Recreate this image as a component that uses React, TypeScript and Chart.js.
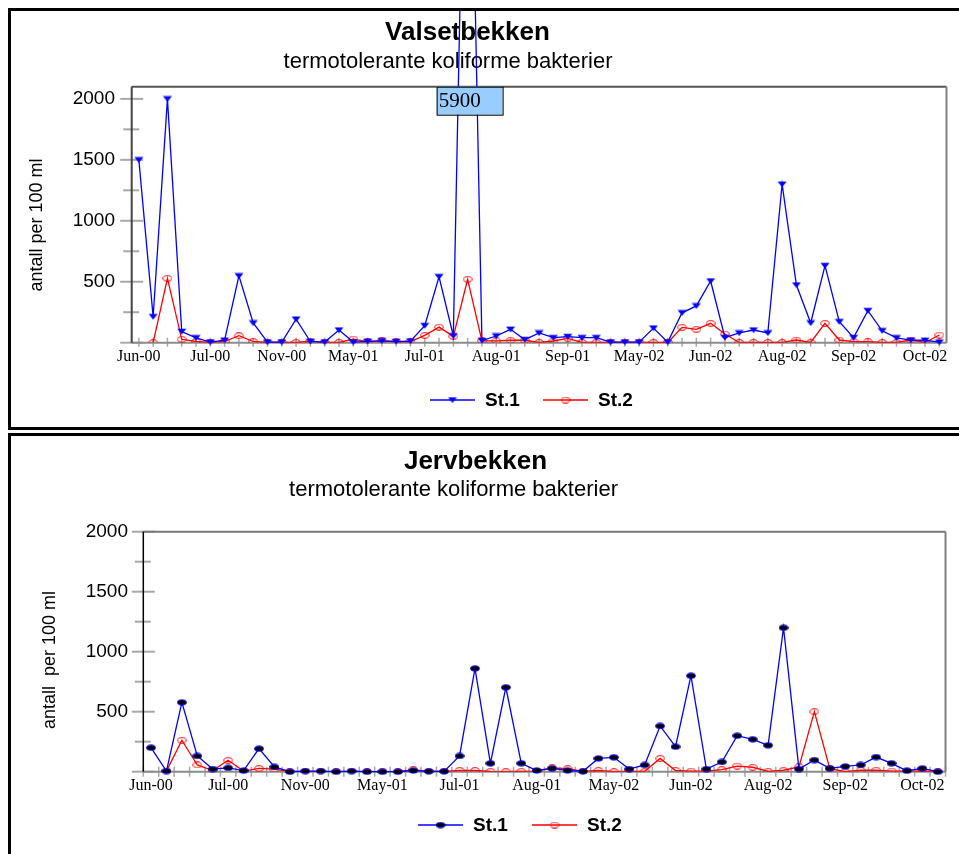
import React, { useEffect, useRef } from 'react';
import { Chart, registerables } from 'chart.js';

Chart.register(...registerables);

const SANS = '"Liberation Sans", Arial, Helvetica, sans-serif';
const SERIF = '"Liberation Serif", "Times New Roman", Times, serif';

// ---------- Valsetbekken ----------
const valsetCategories = [
  'Jun-00', '', '', '', '',
  'Jul-00', '', '', '', '',
  'Nov-00', '', '', '', '',
  'May-01', '', '', '', '',
  'Jul-01', '', '', '', '',
  'Aug-01', '', '', '', '',
  'Sep-01', '', '', '', '',
  'May-02', '', '', '', '',
  'Jun-02', '', '', '', '',
  'Aug-02', '', '', '', '',
  'Sep-02', '', '', '', '',
  'Oct-02', '',
];
const valsetSt1 = [
  1500, 213, 2000, 92, 40,
  5, 21, 548, 162, 5,
  5, 193, 10, 5, 104,
  5, 11, 15, 9, 13,
  140, 541, 55, 5900, 18,
  55, 110, 25, 80, 41,
  50, 41, 41, 5, 5,
  5, 120, 5, 245, 302,
  506, 42, 80, 104, 80,
  1300, 473, 162, 632, 172,
  42, 263, 98, 40, 21,
  20, 5,
];
const valsetSt2 = [
  null, 0, 528, 28, 10,
  3, 10, 57, 10, 2,
  2, 2, 12, 2, 2,
  30, 8, 15, 8, 10,
  60, 128, 52, 520, 15,
  15, 20, 20, 2, 14,
  36, 2, 2, 2, 2,
  2, 2, 2, 126, 110,
  159, 71, 2, 2, 2,
  2, 22, 2, 159, 22,
  8, 8, 2, 2, 22,
  2, 63,
];

// ---------- Jervbekken ----------
const jervCategories = [
  'Jun-00', '', '', '', '',
  'Jul-00', '', '', '', '',
  'Nov-00', '', '', '', '',
  'May-01', '', '', '', '',
  'Jul-01', '', '', '', '',
  'Aug-01', '', '', '', '',
  'May-02', '', '', '', '',
  'Jun-02', '', '', '', '',
  'Aug-02', '', '', '', '',
  'Sep-02', '', '', '', '',
  'Oct-02', '',
];
const jervSt1 = [
  200, 5, 578, 131, 22,
  32, 9, 192, 40, 0,
  5, 5, 0, 5, 0,
  0, 0, 10, 3, 3,
  131, 861, 70, 703, 70,
  10, 28, 10, 3, 111,
  120, 22, 56, 381, 208,
  800, 22, 81, 300, 270,
  220, 1200, 22, 97, 28,
  44, 56, 122, 70, 8,
  28, 0,
];
const jervSt2 = [
  null, 5, 262, 56, 10,
  95, 5, 27, 21, 0,
  0, 0, 0, 0, 0,
  0, 0, 17, 3, 3,
  10, 10, 3, 0, 3,
  5, 31, 25, 3, 10,
  0, 3, 3, 111, 10,
  5, 5, 17, 47, 37,
  3, 12, 40, 500, 25,
  0, 12, 12, 5, 5,
  5, 0,
];

const seriesNames = ['St.1', 'St.2'];
const yTitleText = ['antall per 100 ml', 'antall  per 100 ml'];
const titles = ['Valsetbekken', 'Jervbekken'];
const subtitleText = 'termotolerante koliforme bakterier';

type MarkerKind = 'tri' | 'ring' | 'dot';

function makeMarker(kind: MarkerKind): HTMLCanvasElement {
  const c = document.createElement('canvas');
  c.width = 10;
  c.height = 7;
  const g = c.getContext('2d') as CanvasRenderingContext2D;
  if (kind === 'tri') {
    g.fillStyle = '#0000ff';
    g.beginPath();
    g.moveTo(0.5, 0.8);
    g.lineTo(9.5, 0.8);
    g.lineTo(5, 6.5);
    g.closePath();
    g.fill();
  } else if (kind === 'ring') {
    g.strokeStyle = '#ff0000';
    g.lineWidth = 1;
    g.beginPath();
    g.ellipse(5, 3.5, 4.2, 2.8, 0, 0, Math.PI * 2);
    g.stroke();
  } else {
    g.fillStyle = '#000000';
    g.strokeStyle = '#0000ff';
    g.lineWidth = 1;
    g.beginPath();
    g.ellipse(5, 3.5, 4.4, 2.6, 0, 0, Math.PI * 2);
    g.fill();
    g.stroke();
  }
  return c;
}

type PanelCfg = {
  ox: number;
  oy: number;
  w: number;
  h: number;
  categories: string[];
  st1: (number | null)[];
  st2: (number | null)[];
  ymax: number;
  padTop: number;
  yWidth: number;
  padRight: number;
  xHeight: number;
  yTickPad: number;
  title: string;
  titleX: number;
  titleY: number;
  subX: number;
  subY: number;
  yTitle: string;
  yTitleX: number;
  yTitleY: number;
  legendY: number;
  legendX: number[];
  marker1: MarkerKind;
  tickMode: string;
  showOverflow: boolean;
  topColor: string;
  leftColor: string;
  leftWidth: number;
};

const decorPlugin = {
  id: 'decor',
  beforeDraw(chart: any, _args: any, o: any) {
    const ctx: CanvasRenderingContext2D = chart.ctx;
    ctx.save();
    ctx.fillStyle = '#ffffff';
    ctx.fillRect(0, 0, chart.width, chart.height);
    ctx.fillStyle = '#000000';
    ctx.textAlign = 'center';
    ctx.textBaseline = 'middle';
    ctx.font = `bold 26px ${SANS}`;
    ctx.fillText(o.title, o.titleX - o.ox, o.titleY - o.oy);
    ctx.font = `22px ${SANS}`;
    ctx.fillText(o.subtitle, o.subX - o.ox, o.subY - o.oy);
    ctx.save();
    ctx.translate(o.yTitleX - o.ox, o.yTitleY - o.oy);
    ctx.rotate(-Math.PI / 2);
    ctx.font = `18px ${SANS}`;
    ctx.fillText(o.yTitle, 0, 0);
    ctx.restore();

    // legend
    const ly = o.legendY - o.oy;
    chart.data.datasets.forEach((ds: any, i: number) => {
      const lx = o.legendX[i] - o.ox;
      ctx.strokeStyle = ds.borderColor;
      ctx.lineWidth = 1.3;
      ctx.beginPath();
      ctx.moveTo(lx, ly);
      ctx.lineTo(lx + 45, ly);
      ctx.stroke();
      const img = ds.pointStyle as HTMLCanvasElement;
      ctx.drawImage(img, lx + 22.5 - img.width / 2, ly - img.height / 2);
      ctx.fillStyle = '#000000';
      ctx.textAlign = 'left';
      ctx.font = `bold 19px ${SANS}`;
      ctx.fillText(ds.label, lx + 55, ly + 1);
    });
    ctx.restore();
  },
  beforeDatasetsDraw(chart: any, _args: any, o: any) {
    const ctx: CanvasRenderingContext2D = chart.ctx;
    const { left, right, top, bottom } = chart.chartArea;
    const xs = chart.scales.x;
    const ys = chart.scales.y;
    ctx.save();
    // y ticks (major/minor crossing the axis)
    ctx.strokeStyle = '#a8a8a8';
    ctx.lineWidth = 2;
    ys.ticks.forEach((t: any) => {
      const v = t.value;
      if (v % 250 !== 0 || v > 2000) return;
      const py = ys.getPixelForValue(v);
      const major = v % 500 === 0;
      ctx.beginPath();
      ctx.moveTo(left - (major ? 11.5 : 8.5), py);
      ctx.lineTo(left + (major ? 11.5 : 7.5), py);
      ctx.stroke();
    });
    // x ticks
    ctx.lineWidth = 1.5;
    const n = chart.data.labels.length;
    const step = n > 1 ? xs.getPixelForValue(1) - xs.getPixelForValue(0) : 0;
    if (o.tickMode === 'center') {
      for (let i = 0; i < n; i++) {
        const px = xs.getPixelForValue(i);
        ctx.beginPath();
        ctx.moveTo(px, bottom - 5);
        ctx.lineTo(px, bottom + 4);
        ctx.stroke();
      }
    } else {
      for (let i = 0; i <= n; i++) {
        const px = xs.getPixelForValue(0) + (i - 0.5) * step;
        ctx.beginPath();
        ctx.moveTo(px, bottom - 5);
        ctx.lineTo(px, bottom + 5);
        ctx.stroke();
      }
    }
    // frame
    const line = (x1: number, y1: number, x2: number, y2: number, c: string, w: number) => {
      ctx.strokeStyle = c;
      ctx.lineWidth = w;
      ctx.beginPath();
      ctx.moveTo(x1, y1);
      ctx.lineTo(x2, y2);
      ctx.stroke();
    };
    line(left, top, right, top, o.topColor, 2);
    line(right, top, right, bottom, '#808080', 2);
    line(left, bottom, right, bottom, '#8c8c8c', 2);
    line(left, top, left, bottom, o.leftColor, o.leftWidth);
    ctx.restore();
  },
  afterDatasetsDraw(chart: any, _args: any, o: any) {
    if (!o.showOverflow) return;
    const ctx: CanvasRenderingContext2D = chart.ctx;
    const xs = chart.scales.x;
    const ys = chart.scales.y;
    const ds = chart.data.datasets[0];
    ctx.save();
    ds.data.forEach((v: number | null, i: number) => {
      if (v == null || v <= ys.max) return;
      const px = xs.getPixelForValue(i);
      const bl = px - 31;
      const bt = chart.chartArea.top;
      const bw = 66;
      const bh = 28;
      ctx.fillStyle = '#99ccff';
      ctx.fillRect(bl, bt, bw, bh);
      ctx.strokeStyle = '#000000';
      ctx.lineWidth = 1;
      ctx.strokeRect(bl + 0.5, bt + 0.5, bw, bh);
      ctx.fillStyle = '#000000';
      ctx.font = `21px ${SERIF}`;
      ctx.textAlign = 'left';
      ctx.textBaseline = 'middle';
      ctx.fillText(String(v), bl + 2, bt + bh / 2 + 1);
    });
    ctx.restore();
  },
};

function ChartPanel({ cfg }: { cfg: PanelCfg }) {
  const ref = useRef<HTMLCanvasElement>(null);
  useEffect(() => {
    const canvas = ref.current;
    if (!canvas) return;
    const m1 = makeMarker(cfg.marker1);
    const m2 = makeMarker('ring');
    const chart = new Chart(canvas, {
      type: 'line',
      data: {
        labels: cfg.categories,
        datasets: [
          {
            label: seriesNames[0],
            data: cfg.st1,
            borderColor: '#0000ff',
            backgroundColor: '#0000ff',
            borderWidth: 1.3,
            pointStyle: m1 as any,
            pointRadius: 4,
            tension: 0,
            clip: false as any,
            spanGaps: false,
          },
          {
            label: seriesNames[1],
            data: cfg.st2,
            borderColor: '#ff0000',
            backgroundColor: '#ff0000',
            borderWidth: 1.3,
            pointStyle: m2 as any,
            pointRadius: 4,
            tension: 0,
            spanGaps: false,
          },
        ],
      },
      options: {
        animation: false,
        responsive: false,
        events: [],
        layout: { padding: { top: cfg.padTop, left: 0, right: cfg.padRight, bottom: 0 } },
        plugins: {
          legend: { display: false },
          title: { display: false },
          tooltip: { enabled: false },
          decor: {
            ox: cfg.ox,
            oy: cfg.oy,
            title: cfg.title,
            titleX: cfg.titleX,
            titleY: cfg.titleY,
            subtitle: subtitleText,
            subX: cfg.subX,
            subY: cfg.subY,
            yTitle: cfg.yTitle,
            yTitleX: cfg.yTitleX,
            yTitleY: cfg.yTitleY,
            legendY: cfg.legendY,
            legendX: cfg.legendX,
            tickMode: cfg.tickMode,
            showOverflow: cfg.showOverflow,
            topColor: cfg.topColor,
            leftColor: cfg.leftColor,
            leftWidth: cfg.leftWidth,
          },
        } as any,
        scales: {
          x: {
            type: 'category',
            offset: true,
            grid: { display: false, drawTicks: false },
            border: { display: false },
            ticks: {
              autoSkip: false,
              maxRotation: 0,
              minRotation: 0,
              padding: 4.5,
              color: '#000000',
              font: { family: SERIF, size: 16 },
            },
            afterFit: (s: any) => {
              s.height = cfg.xHeight;
            },
          },
          y: {
            type: 'linear',
            min: 0,
            max: cfg.ymax,
            grid: { display: false, drawTicks: false },
            border: { display: false },
            ticks: {
              stepSize: 250,
              includeBounds: false,
              autoSkip: false,
              padding: cfg.yTickPad,
              color: '#000000',
              font: { family: SANS, size: 19 },
              callback: (v: any) => {
                const n = Number(v);
                return n % 500 === 0 && n > 0 && n <= 2000 ? String(n) : '';
              },
            },
            afterFit: (s: any) => {
              s.width = cfg.yWidth;
            },
          },
        },
      } as any,
      plugins: [decorPlugin as any],
    });
    return () => {
      chart.destroy();
    };
  }, [cfg]);
  return (
    <canvas
      ref={ref}
      width={cfg.w}
      height={cfg.h}
      style={{ display: 'block', width: cfg.w, height: cfg.h }}
    />
  );
}

const topCfg: PanelCfg = {
  ox: 11,
  oy: 11,
  w: 948,
  h: 416,
  categories: valsetCategories,
  st1: valsetSt1,
  st2: valsetSt2,
  ymax: 2100,
  padTop: 75.7,
  yWidth: 120.7,
  padRight: 12.5,
  xHeight: 84.3,
  yTickPad: 16.7,
  title: titles[0],
  titleX: 467.5,
  titleY: 33,
  subX: 448,
  subY: 62,
  yTitle: yTitleText[0],
  yTitleX: 37,
  yTitleY: 225,
  legendY: 400,
  legendX: [430, 543],
  marker1: 'tri',
  tickMode: 'center',
  showOverflow: true,
  topColor: '#555555',
  leftColor: '#444444',
  leftWidth: 2,
};

const bottomCfg: PanelCfg = {
  ox: 11,
  oy: 436,
  w: 948,
  h: 418,
  categories: jervCategories,
  st1: jervSt1,
  st2: jervSt2,
  ymax: 2000,
  padTop: 95.7,
  yWidth: 132.3,
  padRight: 13.5,
  xHeight: 82.3,
  yTickPad: 15.3,
  title: titles[1],
  titleX: 475.5,
  titleY: 462,
  subX: 453.5,
  subY: 490,
  yTitle: yTitleText[1],
  yTitleX: 50,
  yTitleY: 660,
  legendY: 825,
  legendX: [418, 532],
  marker1: 'dot',
  tickMode: 'between',
  showOverflow: false,
  topColor: '#777777',
  leftColor: '#000000',
  leftWidth: 1.5,
};

export default function App() {
  return (
    <div
      style={{
        position: 'absolute',
        left: 0,
        top: 0,
        width: 959,
        height: 854,
        overflow: 'hidden',
        background: '#ffffff',
      }}
    >
      <div
        style={{
          position: 'absolute',
          left: 8,
          top: 8,
          width: 952,
          height: 416,
          border: '3px solid #000000',
        }}
      >
        <ChartPanel cfg={topCfg} />
      </div>
      <div
        style={{
          position: 'absolute',
          left: 8,
          top: 433,
          width: 952,
          height: 430,
          border: '3px solid #000000',
        }}
      >
        <ChartPanel cfg={bottomCfg} />
      </div>
    </div>
  );
}
